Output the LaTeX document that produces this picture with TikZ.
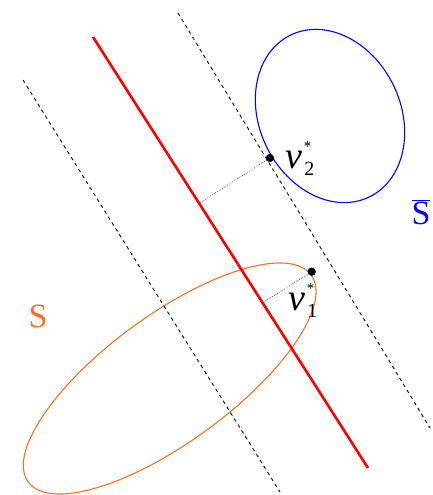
\documentclass[tikz,border=0pt]{standalone}
\usepackage{fontspec}
\setmainfont{Liberation Serif}
\usetikzlibrary{calc}
\definecolor{sorange}{RGB}{255,110,30}
\definecolor{sblue}{RGB}{0,0,255}
\definecolor{sred}{RGB}{255,0,0}
\tikzset{
  hyperplane/.style={sred,line width=2.6pt},
  margin/.style={black,line width=0.9pt,dash pattern=on 3.5pt off 3.5pt},
  proj/.style={black!75,line width=0.55pt,dash pattern=on 0.8pt off 1.2pt},
  setS/.style={sorange,line width=1.1pt},
  setSbar/.style={sblue,line width=1.1pt},
  pt/.style={circle,fill=black,inner sep=0pt,minimum size=8pt},
  nulabel/.style={inner sep=0pt,anchor=base west,font=\fontsize{38}{38}\selectfont\itshape},
  starlabel/.style={inner sep=0pt,anchor=base west,font=\fontsize{15}{15}\selectfont},
  sublabel/.style={inner sep=0pt,anchor=base west,font=\fontsize{20}{20}\selectfont},
  setlabel/.style={inner sep=0pt,font=\fontsize{34}{34}\selectfont}
}
\begin{document}
\begin{tikzpicture}[x=1pt,y=1pt]
\useasboundingbox (0,0) rectangle (432,495);
% ellipses
\draw[setS,rotate around={36.2:(169.7,116.5)}] (169.7,116.5) ellipse (175.3 and 63.5);
\draw[setSbar,rotate around={26:(330,379)}] (330,379) ellipse (70.5 and 90);
% margin lines
\coordinate (dl1) at (23,415);
\coordinate (dl2) at (280,3);
\coordinate (dr1) at (178,482);
\coordinate (dr2) at (430,67);
\draw[margin] (dl1) -- (dl2);
\draw[margin] (dr1) -- (dr2);
% hyperplane
\coordinate (r1) at (93,458);
\coordinate (r2) at (368,27);
% support points
\node[pt] (v2) at (270,337) {};
\node[pt] (v1) at (311.7,223.3) {};
\coordinate (f2) at ($(r1)!(v2.center)!(r2)$);
\coordinate (f1) at ($(r1)!(v1.center)!(r2)$);
\draw[proj] (v2.center) -- (f2);
\draw[proj] (v1.center) -- (f1);
\draw[hyperplane] (r1) -- (r2);
\node[pt] at (v2) {};
\node[pt] at (v1) {};
% labels
\node[nulabel] (n2) at (285,326) {ν};
\node[starlabel] (s2) at ([xshift=1.5pt,yshift=17pt]n2.base east) {*};
\node[sublabel] (i2) at ([xshift=2pt,yshift=-7pt]n2.base east) {2};
\node[nulabel] (n1) at (288,184) {ν};
\node[starlabel] (s1) at ([xshift=1.5pt,yshift=17pt]n1.base east) {*};
\node[sublabel] (i1) at ([xshift=2pt,yshift=-7pt]n1.base east) {1};
\node[setlabel,text=sorange] (S) at (38,179) {S};
\node[setlabel,text=sblue] (Sb) at (421,283) {$\overline{\mbox{S}}$};
\end{tikzpicture}
\end{document}
